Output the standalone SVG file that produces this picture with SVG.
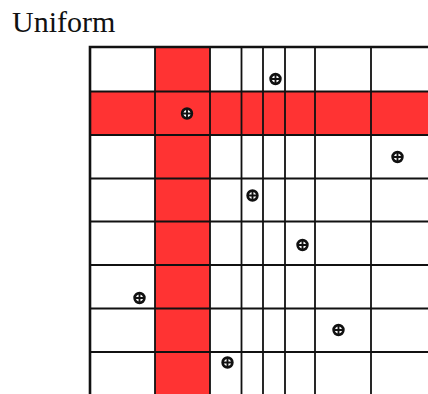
<svg xmlns="http://www.w3.org/2000/svg" xmlns:xlink="http://www.w3.org/1999/xlink" width="428" height="394" viewBox="0 0 428 394">
<style>
.red{fill:#ff3333;stroke:none}
.grid{stroke:#111;stroke-width:1.8;fill:none}
.border{stroke:#111;stroke-width:2.6;fill:none}
.title{font-family:"Liberation Serif","DejaVu Serif",serif;font-size:30px;fill:#111}
</style>
<defs>
<g id="pt">
<circle r="4.9" fill="#fff" stroke="#111" stroke-width="2.6"/>
<path d="M-5 0H5M0 -5V5" stroke="#111" stroke-width="1.9"/>
</g>
</defs>
<rect width="428" height="394" fill="#fff"/>
<text class="title" x="12" y="32">Uniform</text>
<g id="highlight">
<rect class="red" x="155" y="47" width="55" height="347"/>
<rect class="red" x="90" y="91.5" width="338" height="43.5"/>
</g>
<g id="grid" class="grid">
<path d="M155 47V394M210 47V394M241.5 47V394M263 47V394M285 47V394M315 47V394M371 47V394"/>
<path d="M90 91.5H428M90 135H428M90 178.5H428M90 221.5H428M90 265H428M90 308.5H428M90 352H428"/>
</g>
<path class="border" d="M90 394V47H428"/>
<g id="points">
<use xlink:href="#pt" x="187" y="113.5"/>
<use xlink:href="#pt" x="275.5" y="79"/>
<use xlink:href="#pt" x="397.5" y="157"/>
<use xlink:href="#pt" x="252.5" y="195.5"/>
<use xlink:href="#pt" x="302.5" y="245"/>
<use xlink:href="#pt" x="139.5" y="298"/>
<use xlink:href="#pt" x="338.5" y="330"/>
<use xlink:href="#pt" x="227.5" y="362.5"/>
</g>
</svg>
